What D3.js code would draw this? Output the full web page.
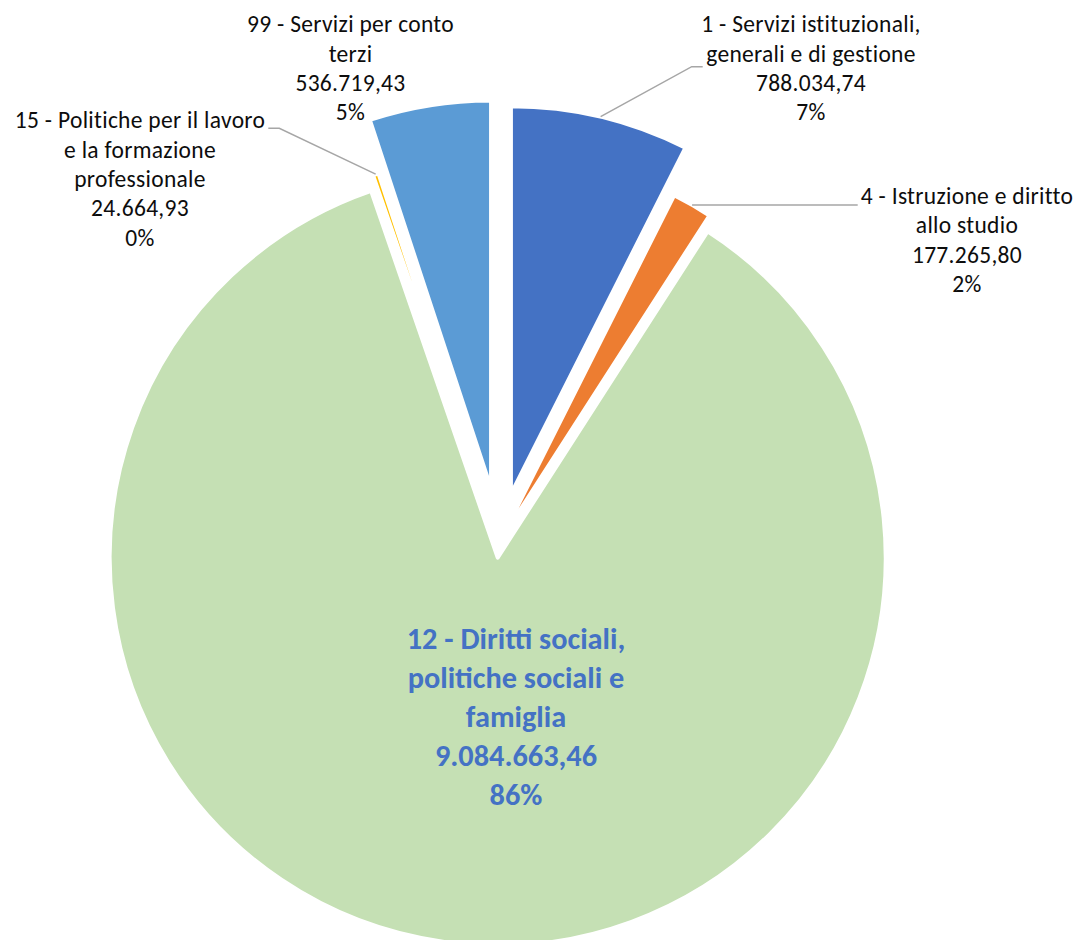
<!DOCTYPE html>
<html>
<head>
<meta charset="utf-8">
<script src="https://cdn.jsdelivr.net/npm/d3@7"></script>
<style>
  html, body { margin: 0; padding: 0; background: #ffffff; }
  svg { display: block; }
</style>
</head>
<body>
<svg id="chart" width="1077" height="940"></svg>
<script>
// ---------------- DATA ----------------
const categories = [
  "1 - Servizi istituzionali, generali e di gestione",
  "4 - Istruzione e diritto allo studio",
  "12 - Diritti sociali, politiche sociali e famiglia",
  "15 - Politiche per il lavoro e la formazione professionale",
  "99 - Servizi per conto terzi"
];
const values = [788034.74, 177265.80, 9084663.46, 24664.93, 536719.43];

// ---------------- STYLE / LAYOUT ----------------
const colors = ["#4472C4", "#ED7D31", "#C5E0B4", "#FFC000", "#5B9BD5"];
const explode = [49, 0, 16, 0, 54];            // px offset of each slice along its bisector
const wordsPerLine = [[4, 4], [5, 2], [4, 3, 1], [6, 3, 1], [5, 1]];
// label block: centre x, first baseline y, leader attach point (null = no leader)
const labelLayout = [
  { cx: 811, y: 32.3, attach: [702.7, 66.7], side: "right" },
  { cx: 967, y: 204,  attach: [857.7, 205],  side: "right" },
  { cx: 516, y: 649.3, attach: null, big: true },
  { cx: 140, y: 128.3, attach: [268.3, 128.3], side: "left" },
  { cx: 350.5, y: 32.3, attach: null }
];

const W = 1077, H = 940;
const center = [499.6, 541.8];
const radius = 388;

const itLocale = d3.formatLocale({ decimal: ",", thousands: ".", grouping: [3], currency: ["€", ""] });
const fmtVal = itLocale.format(",.2f");
const fmtPct = d3.format(".0%");
const total = d3.sum(values);

const svg = d3.select("#chart");
svg.append("rect").attr("width", W).attr("height", H).attr("fill", "#ffffff");

const pie = d3.pie().sort(null).value(d => d).startAngle(0).endAngle(2 * Math.PI);
const arcs = pie(values);
const arc = d3.arc().innerRadius(0).outerRadius(radius);

const g = svg.append("g").attr("transform", `translate(${center[0]},${center[1]})`);

function offset(d, i) {
  const m = (d.startAngle + d.endAngle) / 2;
  return [Math.sin(m) * explode[i], -Math.cos(m) * explode[i]];
}

g.selectAll("path.slice")
  .data(arcs)
  .join("path")
  .attr("class", "slice")
  .attr("d", arc)
  .attr("transform", (d, i) => { const o = offset(d, i); return `translate(${o[0]},${o[1]})`; })
  .attr("fill", (d, i) => colors[i])
  .attr("stroke", "#ffffff")
  .attr("stroke-width", 4)
  .attr("stroke-linejoin", "round");

// leader lines
arcs.forEach((d, i) => {
  const L = labelLayout[i];
  if (!L.attach) return;
  const o = offset(d, i);
  const m = (d.startAngle + d.endAngle) / 2;
  const sx = center[0] + o[0] + Math.sin(m) * radius;
  const sy = center[1] + o[1] - Math.cos(m) * radius;
  const [ax, ay] = L.attach;
  const ex = L.side === "right" ? ax - 11 : ax + 11;
  const pts = Math.abs(sy - ay) < 1 ? [[sx, sy], [ax, ay]] : [[sx, sy], [ex, ay], [ax, ay]];
  svg.append("path")
    .attr("d", d3.line()(pts))
    .attr("fill", "none")
    .attr("stroke", "#A6A6A6")
    .attr("stroke-width", 1.5);
});

// labels
arcs.forEach((d, i) => {
  const L = labelLayout[i];
  const tokens = categories[i].split(" ");
  const lines = [];
  let k = 0;
  wordsPerLine[i].forEach(n => { lines.push(tokens.slice(k, k + n).join(" ")); k += n; });
  lines.push(fmtVal(values[i]));
  lines.push(fmtPct(values[i] / total));
  const big = !!L.big;
  const t = svg.append("text")
    .attr("text-anchor", "middle")
    .attr("font-family", "Carlito, Calibri, Lato, 'Open Sans', sans-serif")
    .attr("font-size", big ? 30.3 : 23.5)
    .attr("letter-spacing", big ? 0 : 0.3)
    .attr("font-weight", big ? 700 : 400)
    .attr("fill", big ? "#4472C4" : "#0d0d0d");
  lines.forEach((ln, j) => {
    t.append("tspan")
      .attr("x", L.cx)
      .attr("y", L.y + j * (big ? 38.8 : 29.3))
      .text(ln);
  });
});
</script>
</body>
</html>
